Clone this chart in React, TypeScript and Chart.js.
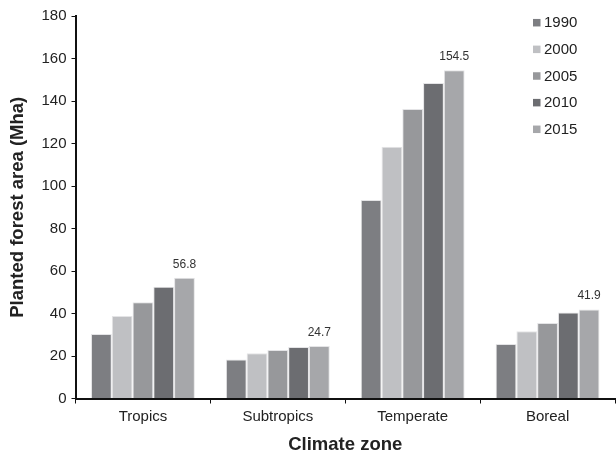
import React, { useEffect, useRef } from "react";
import { Chart, registerables } from "chart.js";

Chart.register(...registerables);

const categories = ["Tropics", "Subtropics", "Temperate", "Boreal"];
const years = ["1990", "2000", "2005", "2010", "2015"];
const values1990 = [30.4, 18.4, 93.4, 25.6];
const values2000 = [38.8, 21.3, 118.5, 31.6];
const values2005 = [45.3, 22.8, 136.2, 35.5];
const values2010 = [52.6, 24.2, 148.5, 40.5];
const values2015 = [56.8, 24.7, 154.5, 41.9];
const colors = ["#7d7e82", "#bfc0c3", "#97989b", "#6c6d71", "#a6a7aa"];
const labelledSeries = 4;

const FONT = "'Liberation Sans', Arial, sans-serif";

const legendPlugin = {
  id: "customLegend",
  afterDraw(chart: any) {
    const ctx = chart.ctx;
    ctx.save();
    ctx.font = `15px ${FONT}`;
    ctx.textBaseline = "middle";
    ctx.textAlign = "left";
    chart.data.datasets.forEach((ds: any, i: number) => {
      const y = 22.7 + i * 26.65;
      ctx.fillStyle = ds.backgroundColor;
      ctx.fillRect(533, y - 3.75, 7.5, 7.5);
      ctx.fillStyle = "#222";
      ctx.fillText(ds.label, 544, y + 0.5);
    });
    ctx.restore();
  },
};

const valueLabelPlugin = {
  id: "valueLabels",
  afterDatasetsDraw(chart: any) {
    const ctx = chart.ctx;
    const meta = chart.getDatasetMeta(labelledSeries);
    const ds = chart.data.datasets[labelledSeries];
    ctx.save();
    ctx.font = `12px ${FONT}`;
    ctx.fillStyle = "#333";
    ctx.textAlign = "center";
    ctx.textBaseline = "middle";
    meta.data.forEach((bar: any, i: number) => {
      ctx.fillText(String(ds.data[i]), bar.x, bar.y - 13.5);
    });
    ctx.restore();
  },
};

export default function App() {
  const ref = useRef<HTMLCanvasElement>(null);
  useEffect(() => {
    document.body.style.margin = "0";
    const series = [values1990, values2000, values2005, values2010, values2015];
    const chart = new Chart(ref.current!, {
      type: "bar",
      data: {
        labels: categories,
        datasets: years.map((y, i) => ({
          label: y,
          data: series[i],
          backgroundColor: colors[i],
          borderColor: "#e4e4e6",
          borderWidth: 1,
          borderSkipped: "bottom",
          categoryPercentage: 0.77,
          barPercentage: 1,
        })),
      },
      options: {
        animation: false,
        responsive: false,
        devicePixelRatio: 1,
        layout: { padding: { top: 16, right: 1, left: 0, bottom: 0 } },
        plugins: { legend: { display: false }, tooltip: { enabled: false } },
        scales: {
          x: {
            border: { color: "#111", width: 2 },
            grid: { offset: true, drawOnChartArea: false, color: "#111", tickLength: 5, lineWidth: 1 },
            ticks: { color: "#222", font: { family: FONT, size: 15 }, padding: 4 },
            title: {
              display: true,
              text: "Climate zone",
              color: "#222",
              font: { family: FONT, size: 18.5, weight: "bold" },
              padding: { top: 6, bottom: -2 },
            },
            afterFit(scale: any) {
              scale.height = 55.5;
            },
          },
          y: {
            min: 0,
            max: 180,
            border: { color: "#111", width: 2 },
            grid: { drawOnChartArea: false, color: "#111", tickLength: 4 },
            ticks: { stepSize: 20, color: "#222", font: { family: FONT, size: 15 }, padding: 5 },
            title: {
              display: true,
              text: "Planted forest area (Mha)",
              color: "#222",
              font: { family: FONT, size: 18.5, weight: "bold" },
              padding: { top: 6.5, bottom: 6 },
            },
            afterFit(scale: any) {
              scale.width = 75.5;
            },
          },
        },
      },
      plugins: [legendPlugin, valueLabelPlugin],
    });
    return () => chart.destroy();
  }, []);
  return <canvas ref={ref} width={616} height={454} style={{ display: "block" }} />;
}
